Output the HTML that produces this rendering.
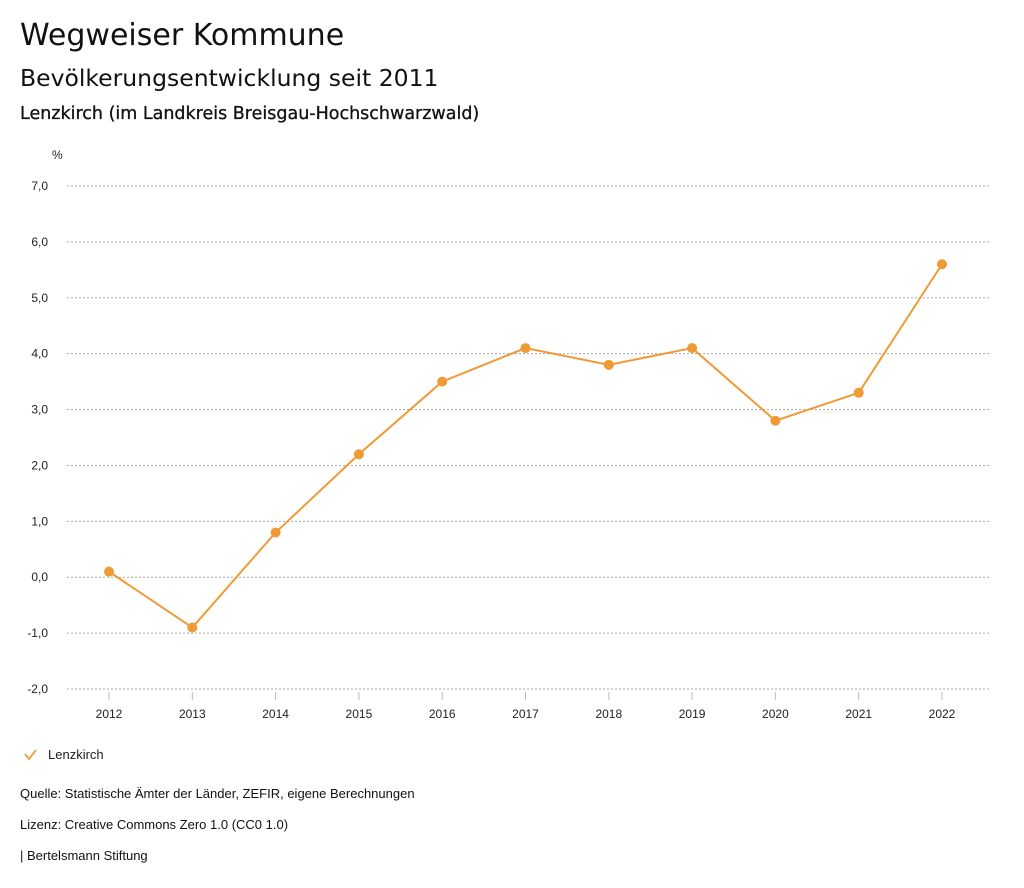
<!DOCTYPE html>
<html><head><meta charset="utf-8"><style>
body{margin:0;background:#fff;width:1024px;height:888px;overflow:hidden;font-family:"Liberation Sans",sans-serif;color:#111}
.t{position:absolute;left:20px;white-space:nowrap}
.d{font-family:"DejaVu Sans",sans-serif}
</style></head><body>
<div class="t d" style="top:18px;font-size:30px">Wegweiser Kommune</div>
<div class="t d" style="top:64px;font-size:23.5px">Bevölkerungsentwicklung seit 2011</div>
<div class="t d" style="top:104px;font-size:17.5px;-webkit-text-stroke:0.3px #111">Lenzkirch (im Landkreis Breisgau-Hochschwarzwald)</div>
<svg id="c" width="1024" height="888" style="position:absolute;left:0;top:0"></svg>
<div class="t" style="top:786px;font-size:13px">Quelle: Statistische Ämter der Länder, ZEFIR, eigene Berechnungen</div>
<div class="t" style="top:817px;font-size:13px">Lizenz: Creative Commons Zero 1.0 (CC0 1.0)</div>
<div class="t" style="top:848px;font-size:13px">| Bertelsmann Stiftung</div>
<script>
const categories=["2012","2013","2014","2015","2016","2017","2018","2019","2020","2021","2022"];
const values=[0.1,-0.9,0.8,2.2,3.5,4.1,3.8,4.1,2.8,3.3,5.6];
const yTicks=[7,6,5,4,3,2,1,0,-1,-2];
const yLabels=["7,0","6,0","5,0","4,0","3,0","2,0","1,0","0,0","-1,0","-2,0"];
const NS="http://www.w3.org/2000/svg",svg=document.getElementById('c');
const y=v=>186+(7-v)*(503/9);
const x=i=>109+i*(833/10);
function mk(t,a,txt){const e=document.createElementNS(NS,t);for(const k in a)e.setAttribute(k,a[k]);if(txt!=null)e.textContent=txt;svg.appendChild(e);return e;}
let u=mk('text',{x:52,y:159,'font-size':12,fill:'#222'},'%');


yTicks.forEach((v,i)=>{
 const g=mk('line',{x1:67,x2:990,y1:y(v),y2:y(v),stroke:'#aaa','stroke-dasharray':'2,2','stroke-width':1});
 
 
 const t=mk('text',{x:48,y:y(v)+4,'font-size':12,'text-anchor':'end',fill:'#222'},yLabels[i]);
 
 
});
categories.forEach((c,i)=>{
 const tk=mk('line',{x1:x(i),x2:x(i),y1:692,y2:700,stroke:'#bbb'});
 
 
 const t=mk('text',{x:x(i),y:718,'font-size':12,'text-anchor':'middle',fill:'#222'},c);
 
 
});
const p=mk('polyline',{points:values.map((v,i)=>x(i)+','+y(v)).join(' '),fill:'none',stroke:'#ef9a35','stroke-width':2});


values.forEach((v,i)=>{
 const d=mk('circle',{cx:x(i),cy:y(v),r:5,fill:'#ef9a35'});
 
 
});
const lg=mk('polyline',{points:'25,754 29,759 36,750',fill:'none',stroke:'#ef9a35','stroke-width':1.8});


const lt=mk('text',{x:48,y:759,'font-size':13,fill:'#222'},'Lenzkirch');


</script>
</body></html>
